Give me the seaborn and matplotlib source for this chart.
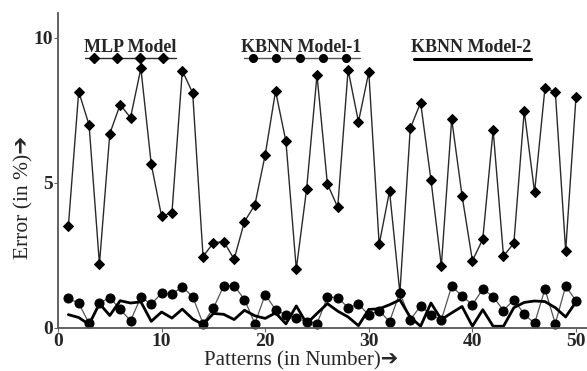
import numpy as np
import pandas as pd
import seaborn as sns
import matplotlib
matplotlib.use('Agg')
import matplotlib.pyplot as plt
from matplotlib.lines import Line2D

# ---- 数据----
patterns = list(range(1, 51))

mlp = [3.5, 8.15, 7.0, 2.2, 6.7, 7.7, 7.25, 8.95, 5.65, 3.85,
       3.98, 8.87, 8.1, 2.46, 2.94, 2.98, 2.37, 3.67, 4.24, 5.97,
       8.17, 6.43, 2.03, 4.8, 8.72, 4.97, 4.16, 8.9, 7.11, 8.82,
       2.88, 4.72, 1.2, 6.88, 7.77, 5.1, 2.14, 7.2, 4.56, 2.32,
       3.06, 6.83, 2.48, 2.92, 7.48, 4.68, 8.26, 8.15, 2.66, 7.98]

kbnn1 = [1.02, 0.85, 0.16, 0.85, 1.05, 0.64, 0.25, 1.06, 0.82, 1.2,
         1.17, 1.42, 1.08, 0.15, 0.68, 1.46, 1.46, 0.98, 0.15, 1.15,
         0.63, 0.45, 0.33, 0.22, 0.15, 1.06, 1.05, 0.7, 0.82, 0.45,
         0.6, 0.22, 1.22, 0.28, 0.76, 0.45, 0.28, 1.44, 1.1, 0.8,
         1.34, 1.08, 0.6, 0.98, 0.47, 0.16, 1.34, 0.15, 1.44, 0.94]

kbnn2 = [0.46, 0.36, 0.12, 0.84, 0.43, 0.94, 0.86, 0.9, 0.23, 0.55,
         0.34, 0.65, 0.31, 0.12, 0.5, 0.47, 0.29, 0.61, 0.42, 0.33,
         0.52, 0.14, 0.76, 0.15, 0.5, 0.84, 0.58, 0.38, 0.08, 0.64,
         0.66, 0.8, 0.97, 0.37, 0.06, 0.86, 0.29, 0.52, 0.74, 0.06,
         0.63, 0.06, 0.06, 0.7, 0.88, 0.93, 0.91, 0.7, 0.38, 0.9]

x_ticks = [0, 10, 20, 30, 40, 50]
y_ticks = [0, 5, 10]
model_names = ['MLP Model', 'KBNN Model-1', 'KBNN Model-2']

df = pd.DataFrame({'pattern': patterns, 'mlp': mlp, 'kbnn1': kbnn1, 'kbnn2': kbnn2})

sns.set_style('ticks')
plt.rcParams['font.family'] = ['Liberation Serif', 'DejaVu Sans']

fig = plt.figure(figsize=(5.87, 3.71), dpi=100)
ax = fig.add_axes([0.0988, 0.116, 0.9012, 0.849])

sns.lineplot(data=df, x='pattern', y='mlp', ax=ax, color='#2a2a2a', linewidth=1.0,
             marker='D', markersize=5, markeredgecolor='black', markerfacecolor='black',
             clip_on=False)
sns.lineplot(data=df, x='pattern', y='kbnn1', ax=ax, color='#555555', linewidth=0.9,
             marker='o', markersize=6.5, markeredgecolor='black', markerfacecolor='black',
             clip_on=False)
sns.lineplot(data=df, x='pattern', y='kbnn2', ax=ax, color='black', linewidth=2.0,
             clip_on=False)

ax.set_xlim(0, 51.06)
ax.set_ylim(0, 10.86)
ax.set_xticks(x_ticks)
ax.set_yticks(y_ticks)
ax.set_xticklabels([str(t) for t in x_ticks], fontsize=14, fontweight='bold')
ax.set_yticklabels([str(t) for t in y_ticks], fontsize=14, fontweight='bold')
ax.tick_params(axis='both', length=3, width=0.8, color='#666666', pad=0.5)
sns.despine(ax=ax)
for s in ['left', 'bottom']:
    ax.spines[s].set_color('#555555')
    ax.spines[s].set_linewidth(1.3)

ax.set_xlabel('')
ax.set_ylabel('')
fig.text(0.513, 0.028, 'Patterns (in Number)\u2794', ha='center', va='center', fontsize=15)
fig.text(0.04, 0.468, 'Error (in %)\u2794', ha='center', va='center', fontsize=15.5,
         rotation=90)

# ---- 图例（文字 + 下方样线）----
W, H = 587.0, 371.0
fy = lambda py: 1 - py / H
fig.text(130 / W, fy(52), model_names[0], ha='center', va='baseline',
         fontsize=13, fontweight='bold')
fig.text(301 / W, fy(52), model_names[1], ha='center', va='baseline',
         fontsize=13, fontweight='bold')
fig.text(471.5 / W, fy(52), model_names[2], ha='center', va='baseline',
         fontsize=13, fontweight='bold')

xs = np.array([85, 94, 117, 140, 163, 176]) / W
fig.add_artist(Line2D(xs, [fy(57.5)] * len(xs), color='#2a2a2a', lw=1.0,
                      marker='D', markersize=5, markevery=[1, 2, 3, 4],
                      markerfacecolor='black', markeredgecolor='black',
                      transform=fig.transFigure))
xs = np.array([244, 253, 276, 300, 323, 346, 360]) / W
fig.add_artist(Line2D(xs, [fy(58)] * len(xs), color='#555555', lw=1.0,
                      marker='o', markersize=5.5, markevery=[1, 2, 3, 4, 5],
                      markerfacecolor='black', markeredgecolor='black',
                      transform=fig.transFigure))
fig.add_artist(Line2D([414 / W, 531 / W], [fy(59)] * 2, color='black', lw=2.2,
                      transform=fig.transFigure))

plt.savefig('out.png', dpi=100)
plt.close()
